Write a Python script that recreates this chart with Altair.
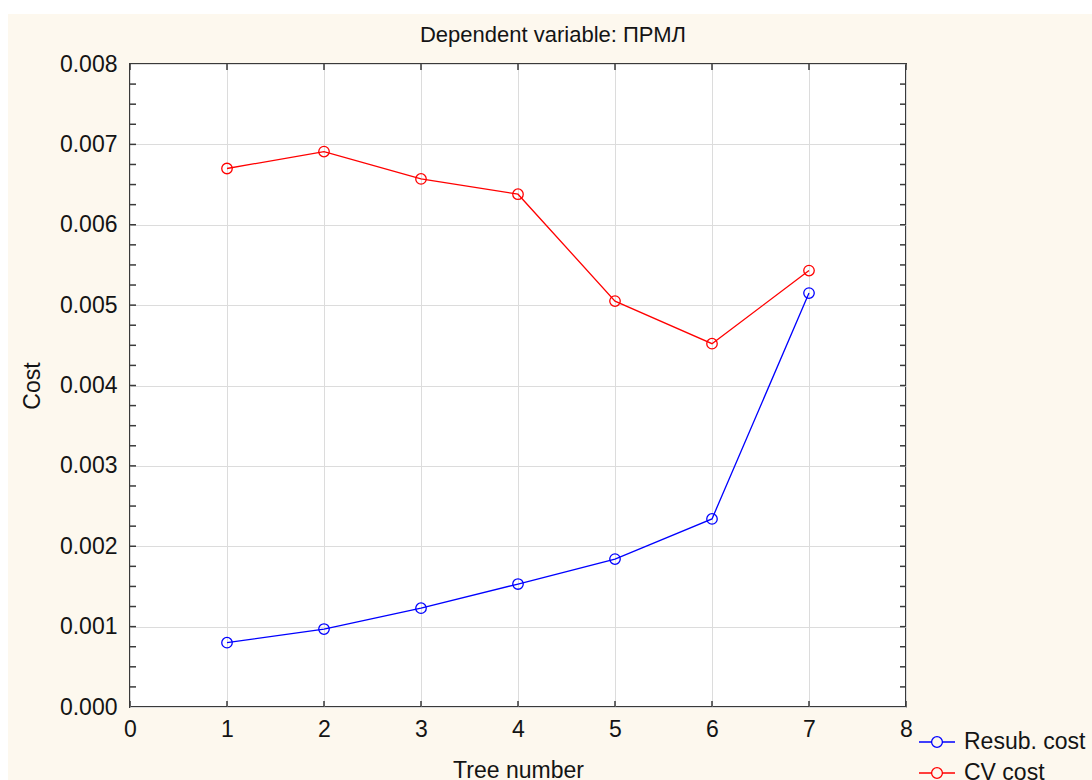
import altair as alt
import pandas as pd

# ---- data ----
trees = [1, 2, 3, 4, 5, 6, 7]
resub_cost = [0.00080, 0.00097, 0.00123, 0.00153, 0.00184, 0.00234, 0.00515]
cv_cost = [0.00670, 0.00691, 0.00657, 0.00638, 0.00505, 0.00452, 0.00543]
series_names = ["Resub. cost", "CV cost"]
series_colors = ["#0000ff", "#ff0000"]
chart_title = "Dependent variable: ПРМЛ"

x_ticks = [0, 1, 2, 3, 4, 5, 6, 7, 8]
y_ticks = [0.000, 0.001, 0.002, 0.003, 0.004, 0.005, 0.006, 0.007, 0.008]
y_minor_ticks = [
    0.00025, 0.0005, 0.00075, 0.001, 0.00125, 0.0015, 0.00175, 0.002,
    0.00225, 0.0025, 0.00275, 0.003, 0.00325, 0.0035, 0.00375, 0.004,
    0.00425, 0.0045, 0.00475, 0.005, 0.00525, 0.0055, 0.00575, 0.006,
    0.00625, 0.0065, 0.00675, 0.007, 0.00725, 0.0075, 0.00775,
]

rows = []
for name, vals in zip(series_names, [resub_cost, cv_cost]):
    for t, v in zip(trees, vals):
        rows.append({"tree": t, "cost": v, "series": name})
df = pd.DataFrame(rows)

W, H = 776, 643
FONT = "Liberation Sans"
TXT = "#141414"
FRAME = "#3a3a3a"
FS = 23

x_scale = alt.Scale(domain=[0, 8], nice=False, zero=False)
y_scale = alt.Scale(domain=[0, 0.008], nice=False)
color_scale = alt.Scale(domain=series_names, range=series_colors)

legend_symbol = ("M-1,0L-0.3,0M0.3,0L1,0"
                 "M-0.3,0A0.3,0.3,0,1,0,0.3,0A0.3,0.3,0,1,0,-0.3,0Z")

x_axis = alt.Axis(values=x_ticks, format="d", title="Tree number",
                  ticks=False, domain=False, grid=True, gridColor="#dcdcdc",
                  labelFontSize=FS, labelPadding=11, labelColor=TXT, labelFont=FONT,
                  labelFlush=False,
                  titleFontSize=FS, titleFont=FONT, titleColor=TXT,
                  titleFontWeight="normal", titlePadding=18)
y_axis = alt.Axis(values=y_ticks, format=".3f", title="Cost",
                  ticks=False, domain=False, grid=True, gridColor="#dcdcdc",
                  labelFontSize=FS, labelPadding=13, labelColor=TXT, labelFont=FONT,
                  labelFlush=False,
                  titleFontSize=FS, titleFont=FONT, titleColor=TXT,
                  titleFontWeight="normal", titlePadding=15)

legend = alt.Legend(title=None, orient="none", legendX=788, legendY=659,
                    symbolType=legend_symbol, symbolSize=1296,
                    symbolStrokeWidth=1.3, labelFontSize=FS, labelFont=FONT,
                    labelColor=TXT, labelOffset=8, rowPadding=-5)

base = alt.Chart(df)
lines = base.mark_line(strokeWidth=1.3).encode(
    x=alt.X("tree:Q", scale=x_scale, axis=x_axis),
    y=alt.Y("cost:Q", scale=y_scale, axis=y_axis),
    color=alt.Color("series:N", scale=color_scale, legend=legend),
)
points = base.mark_point(filled=False, size=110, strokeWidth=1.3, opacity=1).encode(
    x=alt.X("tree:Q", scale=x_scale, axis=x_axis),
    y=alt.Y("cost:Q", scale=y_scale, axis=y_axis),
    color=alt.Color("series:N", scale=color_scale, legend=legend),
)

ydf = pd.DataFrame({"cost": y_minor_ticks})
xdf = pd.DataFrame({"tree": x_ticks})
left_ticks = alt.Chart(ydf).mark_rule(color=FRAME, strokeWidth=1.5).encode(
    y=alt.Y("cost:Q", scale=y_scale, axis=y_axis), x=alt.value(0), x2=alt.value(6))
right_ticks = alt.Chart(ydf).mark_rule(color=FRAME, strokeWidth=1.5).encode(
    y=alt.Y("cost:Q", scale=y_scale, axis=y_axis), x=alt.value(W - 6), x2=alt.value(W))
top_ticks = alt.Chart(xdf).mark_rule(color=FRAME, strokeWidth=1.5).encode(
    x=alt.X("tree:Q", scale=x_scale, axis=x_axis), y=alt.value(0), y2=alt.value(6))
bottom_ticks = alt.Chart(xdf).mark_rule(color=FRAME, strokeWidth=1.5).encode(
    x=alt.X("tree:Q", scale=x_scale, axis=x_axis), y=alt.value(H - 6), y2=alt.value(H))

one = alt.Data(values=[{"k": 1}])
white_left = alt.Chart(one).mark_rect(color="white").encode(
    x=alt.value(-131), x2=alt.value(-122), y=alt.value(-65), y2=alt.value(H + 80))
white_top = alt.Chart(one).mark_rect(color="white").encode(
    x=alt.value(-131), x2=alt.value(W + 200), y=alt.value(-65), y2=alt.value(-50))
title_text = alt.Chart(one).mark_text(
    text=chart_title, font=FONT, fontSize=22, color=TXT, align="center",
    baseline="alphabetic").encode(x=alt.value(W / 2 + 35), y=alt.value(-22))

chart = alt.layer(
    white_left, white_top, left_ticks, right_ticks, top_ticks, bottom_ticks,
    lines, points, title_text
).properties(
    width=W, height=H,
    autosize=alt.AutoSizeParams(type="none"),
    padding={"left": 130, "top": 64, "right": 1092 - 130 - W, "bottom": 780 - 64 - H},
    background="#fdf8ee",
).configure_view(
    stroke=FRAME, strokeWidth=2, fill="white"
)

chart.save("out.html", embed_options={"renderer": "svg", "actions": False})
